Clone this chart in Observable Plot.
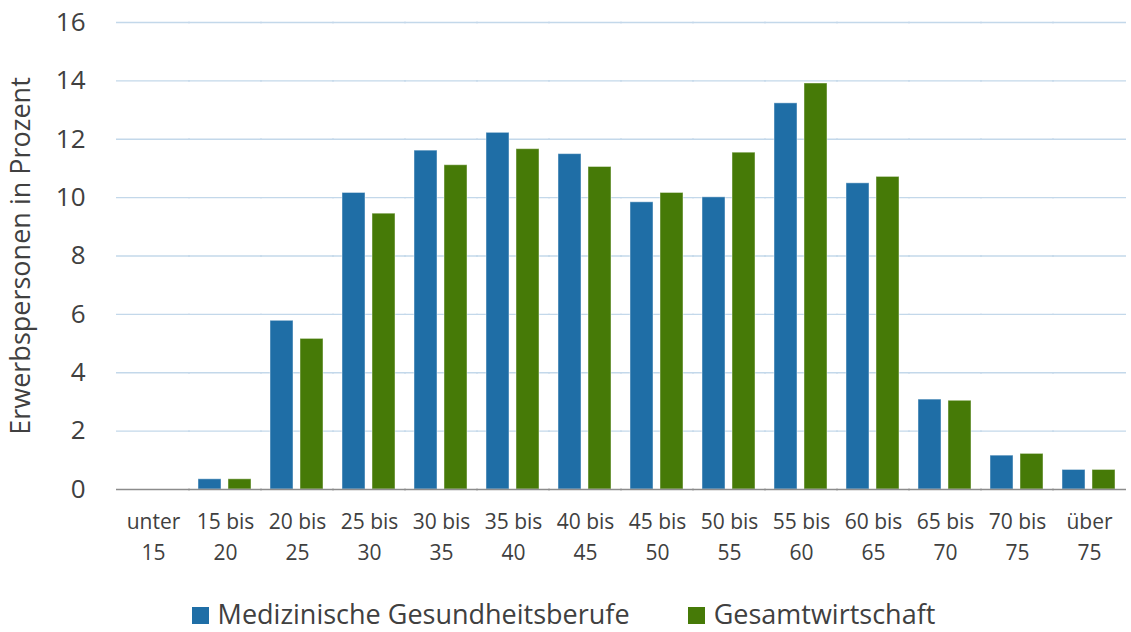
<!DOCTYPE html>
<html>
<head>
<meta charset="utf-8">
<script src="https://cdn.jsdelivr.net/npm/d3@7"></script>
<script src="https://cdn.jsdelivr.net/npm/@observablehq/plot@0.6"></script>
<style>
  body { margin: 0; background: #fff; font-family: "Open Sans", sans-serif; overflow: hidden; }
  #chart svg { display: block; }
  #legend { display: flex; justify-content: center; align-items: center; box-sizing: border-box; height: 52px;
            padding-top: 15px; padding-right: 4px;
            font-size: 27px; color: #404040; font-family: "Open Sans", sans-serif; }
  .item { display: flex; align-items: center; }
  .item + .item { margin-left: 58px; }
  .sw { width: 17px; height: 17px; margin-right: 9px; margin-top: 3px; }
</style>
</head>
<body>
<div id="chart"></div>
<div id="legend"></div>
<script>
const categories = ["unter\n15", "15 bis\n20", "20 bis\n25", "25 bis\n30", "30 bis\n35", "35 bis\n40", "40 bis\n45",
                    "45 bis\n50", "50 bis\n55", "55 bis\n60", "60 bis\n65", "65 bis\n70", "70 bis\n75", "über\n75"];
const seriesNames = ["Medizinische Gesundheitsberufe", "Gesamtwirtschaft"];
const medizinisch = [0, 0.35, 5.78, 10.16, 11.61, 12.22, 11.49, 9.84, 10.01, 13.23, 10.49, 3.08, 1.16, 0.67];
const gesamt      = [0, 0.35, 5.16, 9.45, 11.11, 11.66, 11.05, 10.16, 11.54, 13.91, 10.71, 3.04, 1.22, 0.67];
const yTicks = [0, 2, 4, 6, 8, 10, 12, 14, 16];
const colors = ["#1f6ea6", "#467a07"];
const yLabel = "Erwerbspersonen in Prozent";

const table = [];
categories.forEach((c, i) => {
  table.push({category: c, series: seriesNames[0], value: medizinisch[i]});
  table.push({category: c, series: seriesNames[1], value: gesamt[i]});
});

const chart = Plot.plot({
  width: 1131,
  height: 580,
  marginLeft: 112,
  marginRight: 0,
  marginTop: 22,
  marginBottom: 91,
  style: {fontFamily: "'Open Sans', sans-serif", color: "#404040", background: "#fff"},
  fx: {domain: categories, paddingInner: 0.245, paddingOuter: 0.12, label: null},
  x: {domain: seriesNames, paddingInner: 0.23, paddingOuter: 0, axis: null},
  y: {domain: [0, 16]},
  color: {domain: seriesNames, range: colors},
  marks: [
    Plot.ruleY(yTicks.filter(t => t > 0), {stroke: "#c3d8ea", strokeWidth: 1.4, insetLeft: -10, insetRight: -10}),
    Plot.barY(table, {
      fx: "category", x: "series", y: "value", fill: "series",
      stroke: "#ffffff", strokeOpacity: 0.45, strokeWidth: 1
    }),
    Plot.ruleY([0], {stroke: "#8c8c8c", strokeWidth: 1.3, insetLeft: -10, insetRight: -10}),
    Plot.axisY({ticks: yTicks, tickSize: 0, tickPadding: 41, fontSize: 26, label: null}),
    Plot.axisY({ticks: [], tickSize: 0, fontSize: 27,
                label: yLabel, labelAnchor: "center", labelOffset: 116, labelArrow: "none"}),
    Plot.axisFx({anchor: "bottom", tickSize: 0, tickPadding: 17, fontSize: 21, lineHeight: 1.48, label: null})
  ]
});
document.getElementById("chart").appendChild(chart);

const legend = document.getElementById("legend");
seriesNames.forEach((name, i) => {
  const item = document.createElement("div");
  item.className = "item";
  const sw = document.createElement("div");
  sw.className = "sw";
  sw.style.background = colors[i];
  const t = document.createElement("span");
  t.textContent = name;
  item.appendChild(sw);
  item.appendChild(t);
  legend.appendChild(item);
});
</script>
</body>
</html>
